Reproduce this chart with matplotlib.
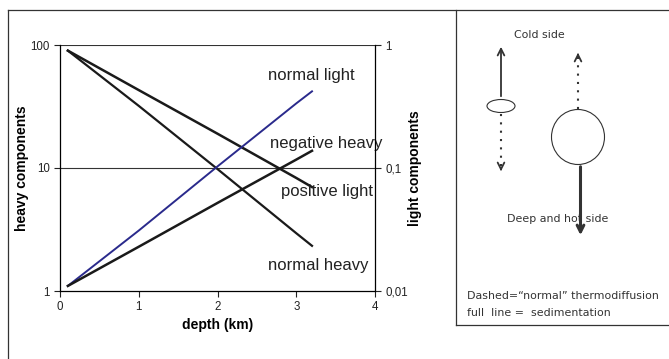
import matplotlib.pyplot as plt
from matplotlib.patches import Ellipse
from matplotlib.ticker import FixedLocator, FixedFormatter, NullLocator

plt.rcParams['font.family'] = ['Liberation Sans', 'DejaVu Sans']

depth = [0.1, 1, 2, 3, 3.2]
normal_heavy = [90, 32, 9.8, 2.95, 2.33]
negative_heavy = [90, 43, 19, 8.3, 7.0]
normal_light = [0.011, 0.031, 0.103, 0.335, 0.42]
positive_light = [0.011, 0.0229, 0.052, 0.117, 0.138]

left_ticks = [1, 10, 100]
left_labels = ['1', '10', '100']
right_ticks = [0.01, 0.1, 1]
right_labels = ['0,01', '0,1', '1']

W, H = 669, 359
fig = plt.figure(figsize=(W / 100, H / 100), dpi=100)

# main chart
ax = fig.add_axes([60 / W, 1 - 291 / H, 315 / W, 246 / H])
ax.plot(depth, normal_heavy, color='#1a1a1a', lw=1.6)
ax.plot(depth, negative_heavy, color='#1a1a1a', lw=1.8)
ax.set_yscale('log')
ax.set_ylim(1, 100)
ax.set_xlim(0, 4)
ax.yaxis.set_major_locator(FixedLocator(left_ticks))
ax.yaxis.set_major_formatter(FixedFormatter(left_labels))
ax.yaxis.set_minor_locator(NullLocator())
ax.set_xticks([0, 1, 2, 3, 4])
ax.axhline(10, color='#333333', lw=0.8, zorder=0)
ax.axhline(100, color='#333333', lw=0.8, zorder=0)
for s in ['top', 'right']:
    ax.spines[s].set_visible(False)
ax.spines['left'].set_linewidth(0.9)
ax.spines['bottom'].set_linewidth(0.9)
ax.tick_params(labelsize=8.3, length=4, width=0.8, colors='#222222')
ax.set_xlabel('depth (km)', fontsize=10, fontweight='bold', labelpad=3)
ax.set_ylabel('heavy components', fontsize=10, fontweight='bold', labelpad=1)

ax2 = ax.twinx()
ax2.plot(depth, normal_light, color='#2a2a8c', lw=1.4)
ax2.plot(depth, positive_light, color='#1a1a1a', lw=1.8)
ax2.set_yscale('log')
ax2.set_ylim(0.01, 1)
ax2.yaxis.set_major_locator(FixedLocator(right_ticks))
ax2.yaxis.set_major_formatter(FixedFormatter(right_labels))
ax2.yaxis.set_minor_locator(NullLocator())
for s in ['top', 'left', 'bottom']:
    ax2.spines[s].set_visible(False)
ax2.spines['right'].set_linewidth(0.9)
ax2.tick_params(labelsize=8.3, length=4, width=0.8, colors='#222222')
ax2.set_ylabel('light components', fontsize=10, fontweight='bold', labelpad=0)

lab_kw = dict(fontsize=12, color='#222222', va='center', ha='left')
ax.text(2.64, 56, 'normal light', **lab_kw)
ax.text(2.67, 15.7, 'negative heavy', **lab_kw)
ax.text(2.81, 6.4, 'positive light', **lab_kw)
ax.text(2.64, 1.6, 'normal heavy', **lab_kw)

# frames and schematic, in pixel coords
ov = fig.add_axes([0, 0, 1, 1], zorder=-1)
ov.set_xlim(0, W)
ov.set_ylim(H, 0)
ov.axis('off')
fc = '#333333'
ov.plot([8, W], [10, 10], color=fc, lw=0.9)
ov.plot([8, 8], [10, H], color=fc, lw=0.9)
ov.plot([456, 456], [10, 325], color=fc, lw=0.9)
ov.plot([456, W], [325, 325], color=fc, lw=0.9)

ov2 = fig.add_axes([0, 0, 1, 1], zorder=3)
ov2.set_xlim(0, W)
ov2.set_ylim(H, 0)
ov2.axis('off')
ov2.add_patch(Ellipse((501, 106), 28, 13, fill=False, ec=fc, lw=0.8))
ov2.add_patch(Ellipse((578, 137), 53, 55, fill=False, ec=fc, lw=0.8))
akw = dict(color=fc, mutation_scale=12)
# small particle: solid up, dotted down
ov2.annotate('', xy=(501, 44), xytext=(501, 99),
             arrowprops=dict(arrowstyle='->', lw=1.3, **akw))
ov2.plot([501, 501], [114, 168], color=fc, lw=1.5, ls=(0, (1, 3)))
ov2.annotate('', xy=(501, 174), xytext=(501, 165),
             arrowprops=dict(arrowstyle='->', lw=1.3, **akw))
# big particle: dotted up, solid down
ov2.plot([578, 578], [109, 56], color=fc, lw=1.5, ls=(0, (1, 3)))
ov2.annotate('', xy=(578, 50), xytext=(578, 59),
             arrowprops=dict(arrowstyle='->', lw=1.3, **akw))
ov2.annotate('', xy=(580.5, 238), xytext=(580.5, 164),
             arrowprops=dict(arrowstyle='->', lw=2.2, **akw))

tkw = dict(fontsize=7.9, color='#333333', va='center', ha='left',
           family=['DejaVu Sans'])
ov2.text(514, 35, 'Cold side', **tkw)
ov2.text(507, 219, 'Deep and hot side', **tkw)
ov2.text(467, 296, 'Dashed=\u201cnormal\u201d thermodiffusion', **tkw)
ov2.text(467, 313, 'full  line =  sedimentation', **tkw)

fig.savefig('out.png', dpi=100)
